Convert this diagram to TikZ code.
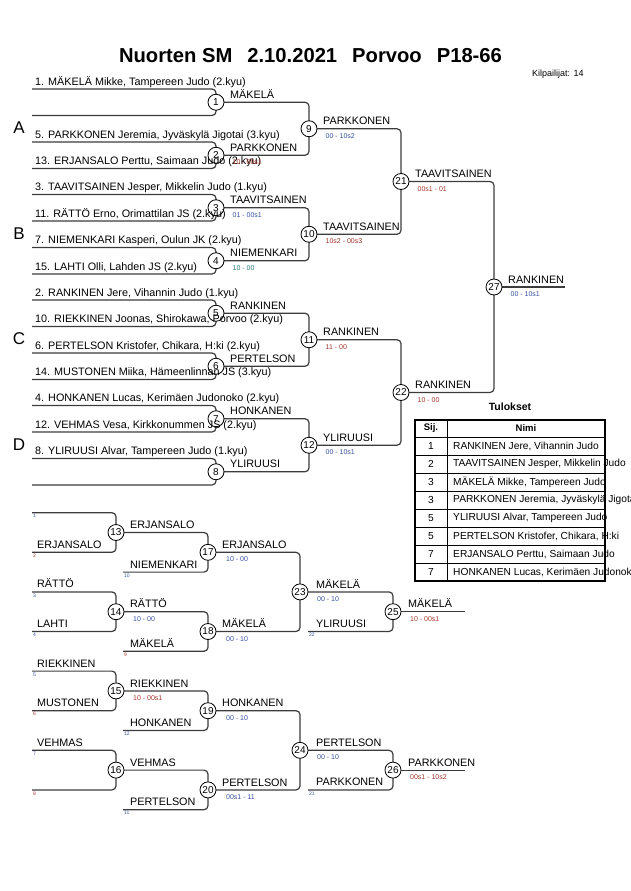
\documentclass[tikz,border=0pt]{standalone}
\usepackage{fontspec}
\setmainfont{Liberation Sans}
\definecolor{ln}{RGB}{60,60,60}
\definecolor{sr}{RGB}{165,55,45}
\definecolor{sb}{RGB}{55,80,160}
\definecolor{st}{RGB}{40,125,125}
\begin{document}
\begin{tikzpicture}[x=1pt,y=-1pt,
  br/.style={draw=ln, line width=1.2pt, rounded corners=4pt},
  mc/.style={circle, draw=black, fill=white, line width=0.8pt, minimum size=16pt, inner sep=0pt, font=\fontsize{10}{10}\selectfont},
  ptx/.style={anchor=base west, inner sep=0pt, font=\fontsize{10.8}{12}\selectfont},
  wl/.style={anchor=base west, inner sep=0pt, font=\fontsize{10.8}{12}\selectfont, yshift=3.8pt},
  sc/.style={anchor=base west, inner sep=0pt, font=\fontsize{7}{8}\selectfont, yshift=-9.5pt},
  sn/.style={anchor=north west, inner sep=0pt, font=\fontsize{5}{5}\selectfont, xshift=1pt, yshift=-1.5pt},
  sect/.style={inner sep=0pt, font=\fontsize{17}{17}\selectfont},
  tb/.style={draw=black, line width=0.6pt}]
\useasboundingbox (0,0) rectangle (630,891);
% title
\node[font=\bfseries\fontsize{20.2}{21}\selectfont, inner sep=0pt] (title) at (310.5,56) {Nuorten SM\hspace{15pt}2.10.2021\hspace{15pt}Porvoo\hspace{15pt}P18-66};
\node[anchor=base west, inner sep=0pt, font=\fontsize{9}{9}\selectfont] (kilp) at (532,77) {Kilpailijat: 14};
% section letters
\node[sect] (secA) at (19,128) {A};
\node[sect] (secB) at (19,234) {B};
\node[sect] (secC) at (19,339) {C};
\node[sect] (secD) at (19,445) {D};
% ---------- main bracket coordinates ----------
\coordinate (p1) at (32,89);    \coordinate (p2) at (32,115.5);
\coordinate (p3) at (32,142);   \coordinate (p4) at (32,168.5);
\coordinate (p5) at (32,194.5); \coordinate (p6) at (32,221);
\coordinate (p7) at (32,247.5); \coordinate (p8) at (32,274);
\coordinate (p9) at (32,300);   \coordinate (p10) at (32,326.5);
\coordinate (p11) at (32,353);  \coordinate (p12) at (32,379.5);
\coordinate (p13) at (32,405.5);\coordinate (p14) at (32,432);
\coordinate (p15) at (32,458.5);\coordinate (p16) at (32,485);
\coordinate (c1) at (216,102.25); \coordinate (c2) at (216,155.25);
\coordinate (c3) at (216,207.75); \coordinate (c4) at (216,260.75);
\coordinate (c5) at (216,313.25); \coordinate (c6) at (216,366.25);
\coordinate (c7) at (216,418.75); \coordinate (c8) at (216,471.75);
\coordinate (c9) at (309,128.75); \coordinate (c10) at (309,234.25);
\coordinate (c11) at (309,339.75);\coordinate (c12) at (309,445.25);
\coordinate (c21) at (401,181.5); \coordinate (c22) at (401,392.5);
\coordinate (c27) at (494,287);   \coordinate (e27) at (565,287);
% round 1
\foreach \a/\b/\c in {p1/p2/c1,p3/p4/c2,p5/p6/c3,p7/p8/c4,p9/p10/c5,p11/p12/c6,p13/p14/c7,p15/p16/c8}
  \draw[br] (\a) -- (\a -| \c) -- (\b -| \c) -- (\b);
% later rounds
\foreach \a/\b/\c in {c1/c2/c9,c3/c4/c10,c5/c6/c11,c7/c8/c12,c9/c10/c21,c11/c12/c22,c21/c22/c27}
  \draw[br] (\a) -- (\a -| \c) -- (\b -| \c) -- (\b);
\draw[br] (c27) -- (e27);
% ---------- repechage coordinates ----------
\coordinate (q1) at (32,512.7);  \coordinate (q2) at (32,552.3);
\coordinate (q3) at (32,591.9);  \coordinate (q4) at (32,631.5);
\coordinate (q5) at (32,671.1);  \coordinate (q6) at (32,710.7);
\coordinate (q7) at (32,750.3);  \coordinate (q8) at (32,789.9);
\coordinate (q10) at (123,572.1);\coordinate (q9) at (123,651.3);
\coordinate (q12) at (123,730.5);\coordinate (q11) at (123,809.7);
\coordinate (q22) at (308,631.5);\coordinate (q21) at (308,789.9);
\coordinate (c13) at (116,532.5); \coordinate (c14) at (116,611.7);
\coordinate (c15) at (116,690.9); \coordinate (c16) at (116,770.1);
\coordinate (c17) at (208,552.3); \coordinate (c18) at (208,631.5);
\coordinate (c19) at (208,710.7); \coordinate (c20) at (208,789.9);
\coordinate (c23) at (300,591.9); \coordinate (c24) at (300,750.3);
\coordinate (c25) at (393,611.7); \coordinate (c26) at (393,770.1);
\coordinate (e25) at (465,611.7); \coordinate (e26) at (465,770.1);
\foreach \a/\b/\c in {q1/q2/c13,q3/q4/c14,q5/q6/c15,q7/q8/c16,c13/q10/c17,c14/q9/c18,c15/q12/c19,c16/q11/c20,c17/c18/c23,c19/c20/c24,c23/q22/c25,c24/q21/c26}
  \draw[br] (\a) -- (\a -| \c) -- (\b -| \c) -- (\b);
\draw[br] (c25) -- (e25);
\draw[br] (c26) -- (e26);
% ---------- circles ----------
\foreach \i in {1,...,27}
  \node[mc] (m\i) at (c\i) {\i};
% ---------- participant texts ----------
\foreach \p/\t in {p1/{1. MÄKELÄ Mikke, Tampereen Judo (2.kyu)},
  p3/{5. PARKKONEN Jeremia, Jyväskylä Jigotai (3.kyu)},
  p4/{13. ERJANSALO Perttu, Saimaan Judo (2.kyu)},
  p5/{3. TAAVITSAINEN Jesper, Mikkelin Judo (1.kyu)},
  p6/{11. RÄTTÖ Erno, Orimattilan JS (2.kyu)},
  p7/{7. NIEMENKARI Kasperi, Oulun JK (2.kyu)},
  p8/{15. LAHTI Olli, Lahden JS (2.kyu)},
  p9/{2. RANKINEN Jere, Vihannin Judo (1.kyu)},
  p10/{10. RIEKKINEN Joonas, Shirokawa, Porvoo (2.kyu)},
  p11/{6. PERTELSON Kristofer, Chikara, H:ki (2.kyu)},
  p12/{14. MUSTONEN Miika, Hämeenlinnan JS (3.kyu)},
  p13/{4. HONKANEN Lucas, Kerimäen Judonoko (2.kyu)},
  p14/{12. VEHMAS Vesa, Kirkkonummen JS (2.kyu)},
  p15/{8. YLIRUUSI Alvar, Tampereen Judo (1.kyu)}}
  \node[ptx, xshift=3pt, yshift=4pt] (t\p) at (\p) {\t};
% winner labels main
\foreach \c/\t in {c1/MÄKELÄ,c2/PARKKONEN,c3/TAAVITSAINEN,c4/NIEMENKARI,c5/RANKINEN,c6/PERTELSON,c7/HONKANEN,c8/YLIRUUSI,c9/PARKKONEN,c10/TAAVITSAINEN,c11/RANKINEN,c12/YLIRUUSI,c21/TAAVITSAINEN,c22/RANKINEN,c27/RANKINEN}
  \node[wl, xshift=14pt] (w\c) at (\c) {\t};
% scores main
\foreach \c/\t/\col in {c2/{10 - 00s1}/sr,c3/{01 - 00s1}/sb,c4/{10 - 00}/st,c9/{00 - 10s2}/sb,c10/{10s2 - 00s3}/sr,c11/{11 - 00}/sr,c12/{00 - 10s1}/sb,c21/{00s1 - 01}/sr,c22/{10 - 00}/sr,c27/{00 - 10s1}/sb}
  \node[sc, xshift=16.5pt, text=\col] (s\c) at (\c) {\t};
% ---------- repechage texts ----------
\foreach \p/\t/\dx in {q2/ERJANSALO/5,q3/RÄTTÖ/5,q4/LAHTI/5,q5/RIEKKINEN/5,q6/MUSTONEN/5,q7/VEHMAS/5,q10/NIEMENKARI/7,q9/MÄKELÄ/7,q12/HONKANEN/7,q11/PERTELSON/7,q22/YLIRUUSI/8,q21/PARKKONEN/8}
  \node[ptx, xshift=\dx pt, yshift=4pt] (t\p) at (\p) {\t};
\foreach \c/\t/\dx in {c13/ERJANSALO/14,c14/RÄTTÖ/14,c15/RIEKKINEN/14,c16/VEHMAS/14,c17/ERJANSALO/14,c18/MÄKELÄ/14,c19/HONKANEN/14,c20/PERTELSON/14,c23/MÄKELÄ/16,c24/PERTELSON/16,c25/MÄKELÄ/15,c26/PARKKONEN/15}
  \node[wl, xshift=\dx pt] (w\c) at (\c) {\t};
\foreach \c/\t/\col/\dx in {c14/{10 - 00}/sb/17,c15/{10 - 00s1}/sr/17,c17/{10 - 00}/sb/18,c18/{00 - 10}/sb/18,c19/{00 - 10}/sb/18,c20/{00s1 - 11}/sb/18,c23/{00 - 10}/sb/17,c24/{00 - 10}/sb/17,c25/{10 - 00s1}/sr/17,c26/{00s1 - 10s2}/sr/17}
  \node[sc, xshift=\dx pt, text=\col] (s\c) at (\c) {\t};
\foreach \p/\t/\col in {q1/1/sb,q2/2/sr,q10/10/sb,q3/3/sb,q4/4/sb,q9/9/sr,q22/22/sb,q5/5/sb,q6/6/sr,q12/12/sb,q7/7/sb,q8/8/sr,q11/11/sb,q21/21/sb}
  \node[sn, text=\col] (n\p) at (\p) {\t};
% ---------- results table ----------
\node[font=\bfseries\fontsize{10.5}{11}\selectfont, inner sep=0pt] (tul) at (510,407) {Tulokset};
\draw[tb] (415,437) -- (605,437);
\foreach \y in {455,473,491,509,527,545,563}
  \draw[tb] (415,\y) -- (605,\y);
\draw[tb] (447,420) -- (447,581);
\node[font=\bfseries\fontsize{9.5}{10}\selectfont, inner sep=0pt] (hsij) at (431,428.5) {Sij.};
\node[font=\bfseries\fontsize{9.5}{10}\selectfont, inner sep=0pt] (hnimi) at (526,428.5) {Nimi};
\foreach \r/\t [count=\i] in {1/{RANKINEN Jere, Vihannin Judo},
  2/{TAAVITSAINEN Jesper, Mikkelin Judo},
  3/{MÄKELÄ Mikke, Tampereen Judo},
  3/{PARKKONEN Jeremia, Jyväskylä Jigotai},
  5/{YLIRUUSI Alvar, Tampereen Judo},
  5/{PERTELSON Kristofer, Chikara, H:ki},
  7/{ERJANSALO Perttu, Saimaan Judo},
  7/{HONKANEN Lucas, Kerimäen Judonoko}} {
  \node[inner sep=0pt, font=\fontsize{10.2}{11}\selectfont] (rk\i) at (431,428+18*\i) {\r};
  \node[anchor=west, inner sep=0pt, font=\fontsize{10.2}{11}\selectfont] (rn\i) at (453,428+18*\i) {\t};
}
\draw[draw=black, line width=1.6pt] (415,420) rectangle (605,581);
\end{tikzpicture}
\end{document}
